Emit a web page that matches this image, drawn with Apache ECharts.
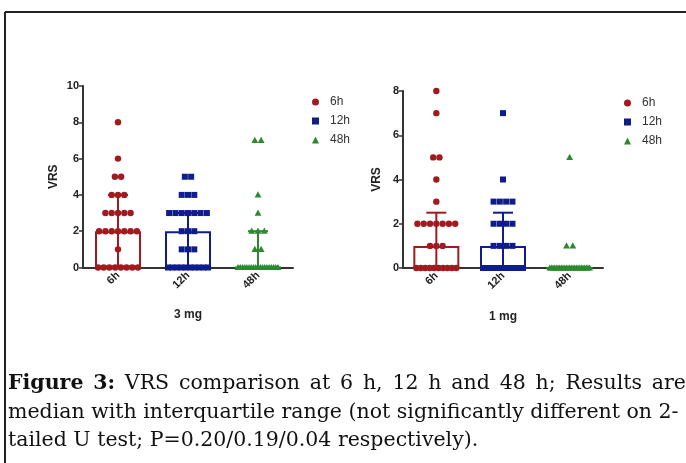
<!DOCTYPE html>
<html>
<head>
<meta charset="utf-8">
<script src="https://cdn.jsdelivr.net/npm/echarts@6/dist/echarts.min.js"></script>
<style>
html,body{margin:0;padding:0;background:#fff;}
#chart{width:686px;height:463px;}
</style>
</head>
<body>
<div id="chart"></div>
<script>
// categories and colours
var categories = ['6h', '12h', '48h'];
var groupColors = ['#a11a1e', '#0f1c8c', '#2b8a2e'];

// 3 mg : individual VRS scores
var mg3_6h  = [0,0,0,0,0,0,0,0,1,2,2,2,2,2,2,2,3,3,3,3,3,4,4,4,5,5,6,8];
var mg3_12h = [0,0,0,0,0,0,0,0,0,0,1,1,1,2,2,2,3,3,3,3,3,3,3,4,4,4,5,5];
var mg3_48h = [0,0,0,0,0,0,0,0,0,0,0,0,0,0,0,0,0,0,0,1,1,2,2,2,3,4,7,7];
// median and interquartile range (bars / whiskers)
var mg3_median = [2, 2, 0];
var mg3_q1 = [0, 0, 0];
var mg3_q3 = [4, 3, 2];

// 1 mg
var mg1_6h  = [0,0,0,0,0,0,0,0,0,0,1,1,1,2,2,2,2,2,2,2,3,4,5,5,7,8];
var mg1_12h = [0,0,0,0,0,0,0,0,0,0,0,0,0,0,1,1,1,1,2,2,2,2,3,3,3,3,4,7];
var mg1_48h = [0,0,0,0,0,0,0,0,0,0,0,0,0,0,0,0,0,0,0,0,0,0,0,0,0,1,1,5];
var mg1_median = [1, 1, 0];
var mg1_q1 = [0, 0, 0];
var mg1_q3 = [2.5, 2.5, 0];

// y axis ticks
var mg3_yMax = 10, mg1_yMax = 8, yStep = 2;

var captionLines = [
  'VRS comparison at 6 h, 12 h and 48 h; Results are',
  'median with interquartile range (not significantly different on 2-',
  'tailed U test; P=0.20/0.19/0.04 respectively).'
];

var chart = echarts.init(document.getElementById('chart'));

var DOT_STEP = 6.3, MAX_SPAN = 40;
/**
 * spread equal values side by side (column scatter)
 */
function swarm(values, cat) {
  var rows = {};
  values.forEach(function (v) { rows[v] = (rows[v] || 0) + 1; });
  var out = [];
  Object.keys(rows).forEach(function (k) {
    var n = rows[k];
    var step = n > 1 ? Math.min(DOT_STEP, MAX_SPAN / (n - 1)) : 0;
    for (var i = 0; i < n; i++) out.push([cat, +k, (i - (n - 1) / 2) * step]);
  });
  return out;
}

function markerItem(shape) {
  return function (params, api) {
    var p = api.coord([api.value(0), api.value(1)]);
    var x = p[0] + api.value(2), y = p[1];
    var color = api.visual('color');
    if (shape === 'circle') {
      return { type: 'circle', shape: { cx: x, cy: y, r: 3.2 }, style: { fill: color } };
    }
    if (shape === 'rect') {
      return { type: 'rect', shape: { x: x - 3, y: y - 3, width: 6, height: 6 }, style: { fill: color } };
    }
    return { type: 'polygon', shape: { points: [[x, y - 3.6], [x + 3.4, y + 2.6], [x - 3.4, y + 2.6]] }, style: { fill: color } };
  };
}

function errorItem(params, api) {
  var c = api.value(0);
  var lo = api.coord([c, api.value(1)]);
  var hi = api.coord([c, api.value(2)]);
  if (Math.abs(hi[1] - lo[1]) < 0.5) return null;
  var color = groupColors[c];
  var cw = 10;
  var st = { stroke: color, lineWidth: 2 };
  return {
    type: 'group',
    children: [
      { type: 'line', shape: { x1: lo[0], y1: lo[1], x2: hi[0], y2: hi[1] }, style: st },
      { type: 'line', shape: { x1: hi[0] - cw, y1: hi[1], x2: hi[0] + cw, y2: hi[1] }, style: st },
      { type: 'line', shape: { x1: lo[0] - cw, y1: lo[1], x2: lo[0] + cw, y2: lo[1] }, style: st }
    ]
  };
}

function panelSeries(idx, groups, median, q1, q3) {
  var list = [];
  list.push({
    type: 'bar', xAxisIndex: idx, yAxisIndex: idx, barWidth: 46, silent: true,
    data: median.map(function (m, i) {
      return { value: m, itemStyle: { color: 'rgba(0,0,0,0)', borderColor: groupColors[i], borderWidth: 2 } };
    })
  });
  list.push({
    type: 'custom', xAxisIndex: idx, yAxisIndex: idx, silent: true,
    renderItem: errorItem,
    data: median.map(function (m, i) { return [i, q1[i], q3[i]]; })
  });
  var shapes = ['circle', 'rect', 'triangle'];
  groups.forEach(function (g, i) {
    list.push({
      type: 'custom', name: categories[i], xAxisIndex: idx, yAxisIndex: idx,
      itemStyle: { color: groupColors[i] },
      renderItem: markerItem(shapes[i]),
      data: swarm(g, i)
    });
  });
  return list;
}

var axisFont = { fontFamily: 'Liberation Sans', fontWeight: 'bold', fontSize: 11, color: '#222' };
var nameFont = { fontFamily: 'Liberation Sans', fontWeight: 'bold', fontSize: 12, color: '#222' };

function xAxisOf(idx, name, gap) {
  return {
    type: 'category', gridIndex: idx, data: categories,
    name: name, nameLocation: 'middle', nameGap: gap,
    nameTextStyle: nameFont,
    axisLine: { lineStyle: { color: '#333', width: 2 } },
    axisTick: { alignWithLabel: true, length: 3, lineStyle: { color: '#333', width: 1.5 } },
    axisLabel: Object.assign({ rotate: 45, margin: 6 }, axisFont)
  };
}
function yAxisOf(idx, max, gap) {
  return {
    type: 'value', gridIndex: idx, min: 0, max: max, interval: yStep,
    name: 'VRS', nameLocation: 'middle', nameGap: gap, nameRotate: 90,
    nameTextStyle: nameFont,
    axisLine: { show: true, lineStyle: { color: '#333', width: 2 } },
    axisTick: { show: true, length: 4, lineStyle: { color: '#333', width: 1.5 } },
    axisLabel: Object.assign({ margin: 4 }, axisFont),
    splitLine: { show: false }
  };
}

function legendOf(left, top) {
  return {
    orient: 'vertical', left: left, top: top,
    itemWidth: 7, itemHeight: 7, itemGap: 7,
    textStyle: { fontFamily: 'Liberation Sans', fontSize: 12, color: '#333', padding: [0, 0, 0, 6] },
    data: [
      { name: '6h', icon: 'circle' },
      { name: '12h', icon: 'rect' },
      { name: '48h', icon: 'triangle' }
    ]
  };
}

// caption: first line justified to the column width
var CAP_SIZE = 20.5, CAP_X = 8, CAP_W = 678, CAP_Y = [384, 413, 441];
var capFont = CAP_SIZE + 'px "DejaVu Serif"';
var measureCtx = document.createElement('canvas').getContext('2d');
function textWidth(t, bold) {
  measureCtx.font = (bold ? 'bold ' : '') + capFont;
  return measureCtx.measureText(t).width;
}
var firstWords = [{ t: 'Figure', b: true }, { t: '3:', b: true }].concat(
  captionLines[0].split(' ').map(function (w) { return { t: w, b: false }; })
);
var wordsW = 0;
firstWords.forEach(function (w) { w.w = textWidth(w.t, w.b); wordsW += w.w; });
var wordGap = (CAP_W - wordsW) / (firstWords.length - 1);

var captionGraphics = [];
var cx = CAP_X;
firstWords.forEach(function (w) {
  captionGraphics.push({
    type: 'text', x: cx, y: CAP_Y[0],
    style: { text: w.t, font: (w.b ? 'bold ' : '') + capFont, fill: '#111', verticalAlign: 'middle' }
  });
  cx += w.w + wordGap;
});
[1, 2].forEach(function (i) {
  captionGraphics.push({
    type: 'text', x: CAP_X, y: CAP_Y[i],
    style: { text: captionLines[i], font: capFont, fill: '#111', verticalAlign: 'middle' }
  });
});

var option = {
  backgroundColor: '#fff',
  animation: false,
  grid: [
    { left: 83, top: 86, width: 210, height: 181.5 },
    { left: 403, top: 91, width: 200, height: 177 }
  ],
  xAxis: [xAxisOf(0, '3 mg', 41), xAxisOf(1, '1 mg', 43)],
  yAxis: [yAxisOf(0, mg3_yMax, 23), yAxisOf(1, mg1_yMax, 20)],
  legend: [legendOf(307, 91), legendOf(619, 92)],
  series: []
    .concat(panelSeries(0, [mg3_6h, mg3_12h, mg3_48h], mg3_median, mg3_q1, mg3_q3))
    .concat(panelSeries(1, [mg1_6h, mg1_12h, mg1_48h], mg1_median, mg1_q1, mg1_q3)),
  graphic: [
    { type: 'line', shape: { x1: 5, y1: 12, x2: 686, y2: 12 }, style: { stroke: '#222', lineWidth: 2 } },
    { type: 'line', shape: { x1: 5, y1: 12, x2: 5, y2: 463 }, style: { stroke: '#222', lineWidth: 2 } }
  ].concat(captionGraphics)
};

chart.setOption(option);
</script>
</body>
</html>
